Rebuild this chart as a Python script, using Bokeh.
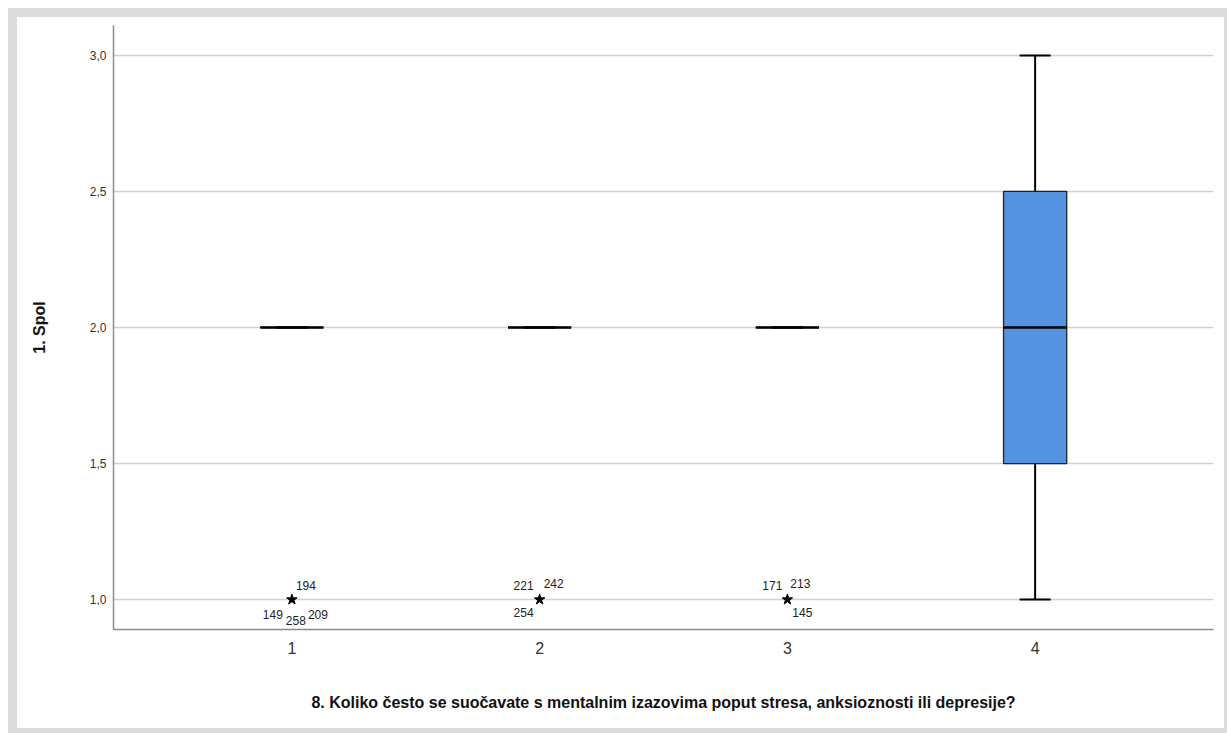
from bokeh.plotting import figure
from bokeh.models import FixedTicker, CustomJSTickFormatter, ColumnDataSource, Range1d
from bokeh.embed import file_html
from bokeh.resources import INLINE
from bokeh.core.properties import value

# ---- data ----
categories = [1, 2, 3, 4]
cat_labels = ["1", "2", "3", "4"]
q1 = [2.0, 2.0, 2.0, 1.5]
median = [2.0, 2.0, 2.0, 2.0]
q3 = [2.0, 2.0, 2.0, 2.5]
whisk_low = [2.0, 2.0, 2.0, 1.0]
whisk_high = [2.0, 2.0, 2.0, 3.0]

# extreme outliers (stars)
out_cat = [1, 2, 3]
out_val = [1.0, 1.0, 1.0]

# outlier case labels
lab_cat = [1, 1, 1, 1, 2, 2, 2, 3, 3, 3]
lab_val = [1.0] * 10
lab_text = ["194", "149", "258", "209", "221", "242", "254", "171", "213", "145"]

y_ticks = [1.0, 1.5, 2.0, 2.5, 3.0]
x_title = "8. Koliko često se suočavate s mentalnim izazovima poput stresa, anksioznosti ili depresije?"
y_title = "1. Spol"

# ---- label layout (screen px offsets) ----
lab_dx = [4, -9, 4, 16, -6, 4, -6, -5, 3, 5]
lab_dy = [-14, 15, 21, 15, -14, -16, 13, -14, -16, 13]
lab_align = ["left", "right", "center", "left", "right", "left", "right", "right", "left", "left"]

FONT = "Liberation Sans"
BOX_W = 0.255
CAP_W = 0.125

p = figure(width=1219, height=725, output_backend="svg", toolbar_location=None,
           x_range=Range1d(0.28, 4.72), y_range=Range1d(0.89, 3.11),
           min_border_left=96, min_border_top=8, min_border_right=23, min_border_bottom=113)
p.styles = {"border-style": "solid", "border-color": "#dcdcdc",
            "border-width": "9px 3px 5px 9px", "margin": "8px 0px 0px 8px",
            "background-color": "white"}
p.outline_line_color = None
p.background_fill_color = "white"
p.border_fill_color = "white"

# grid
p.xgrid.grid_line_color = None
p.ygrid.grid_line_color = "#d0d0d0"
p.ygrid.grid_line_width = 1.5
p.ygrid.ticker = FixedTicker(ticks=y_ticks)

# y axis
p.yaxis.ticker = FixedTicker(ticks=y_ticks)
p.yaxis.formatter = CustomJSTickFormatter(code="return tick.toFixed(1).replace('.', ',');")
p.yaxis.axis_line_color = "#8c8c8c"
p.yaxis.axis_line_width = 1.5
p.yaxis.major_tick_in = 0
p.yaxis.major_tick_out = 0
p.yaxis.minor_tick_line_color = None
p.yaxis.major_label_text_font = FONT
p.yaxis.major_label_text_font_size = "12px"
p.yaxis.major_label_text_color = "#333333"
p.yaxis.major_label_standoff = 7
p.yaxis.axis_label = y_title
p.yaxis.axis_label_text_font = FONT
p.yaxis.axis_label_text_font_style = "bold"
p.yaxis.axis_label_text_font_size = "16px"
p.yaxis.axis_label_text_color = "#111111"
p.yaxis.axis_label_standoff = 39

# x axis
p.xaxis.ticker = FixedTicker(ticks=categories)
p.xaxis.major_label_overrides = {c: l for c, l in zip(categories, cat_labels)}
p.xaxis.axis_line_color = "#8c8c8c"
p.xaxis.axis_line_width = 1.5
p.xaxis.major_tick_in = 0
p.xaxis.major_tick_out = 0
p.xaxis.minor_tick_line_color = None
p.xaxis.major_label_text_font = FONT
p.xaxis.major_label_text_font_size = "16px"
p.xaxis.major_label_text_color = "#333333"
p.xaxis.major_label_standoff = 12
p.xaxis.axis_label = x_title
p.xaxis.axis_label_text_font = FONT
p.xaxis.axis_label_text_font_style = "bold"
p.xaxis.axis_label_text_font_size = "16px"
p.xaxis.axis_label_text_color = "#111111"
p.xaxis.axis_label_standoff = 37

box_src = ColumnDataSource(dict(x=categories, q1=q1, q3=q3, med=median,
                                lo=whisk_low, hi=whisk_high))

# whiskers
p.segment(x0="x", y0="q3", x1="x", y1="hi", source=box_src, line_color="black", line_width=2)
p.segment(x0="x", y0="q1", x1="x", y1="lo", source=box_src, line_color="black", line_width=2)
# caps
cap_src = ColumnDataSource(dict(
    x0=[c - CAP_W / 2 for c in categories], x1=[c + CAP_W / 2 for c in categories],
    lo=whisk_low, hi=whisk_high))
p.segment(x0="x0", y0="hi", x1="x1", y1="hi", source=cap_src, line_color="black", line_width=2)
p.segment(x0="x0", y0="lo", x1="x1", y1="lo", source=cap_src, line_color="black", line_width=2)

# boxes
p.vbar(x="x", width=BOX_W, bottom="q1", top="q3", source=box_src,
       fill_color="#5592e0", line_color="#222222", line_width=1.3)
# medians
med_src = ColumnDataSource(dict(
    x0=[c - BOX_W / 2 for c in categories], x1=[c + BOX_W / 2 for c in categories], y=median))
p.segment(x0="x0", y0="y", x1="x1", y1="y", source=med_src, line_color="black", line_width=2.5)

# outliers
p.scatter(x=out_cat, y=out_val, marker="star", size=11, fill_color="black", line_color="black")

lab_src = ColumnDataSource(dict(x=lab_cat, y=lab_val, t=lab_text, dx=lab_dx, dy=lab_dy, al=lab_align))
p.text(x="x", y="y", text="t", x_offset="dx", y_offset="dy", text_align="al",
       text_baseline="middle", source=lab_src, text_font=value(FONT),
       text_font_size="12px", text_color="#222222")

open("out.html", "w").write(file_html(p, INLINE))
